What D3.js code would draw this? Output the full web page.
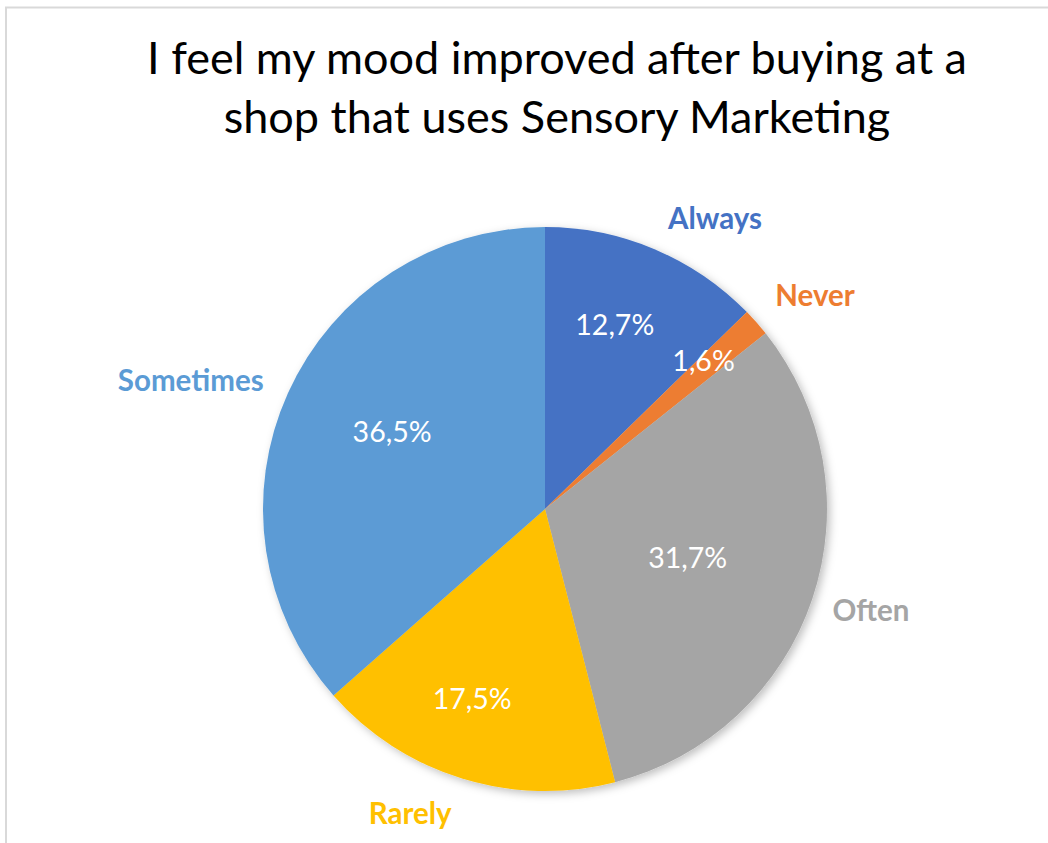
<!DOCTYPE html>
<html>
<head>
<meta charset="utf-8">
<script src="https://cdn.jsdelivr.net/npm/d3@7/dist/d3.min.js"></script>
<style>
  html, body { margin: 0; padding: 0; background: #fff; }
  svg { display: block; font-family: Lato, "Open Sans", sans-serif; }
</style>
</head>
<body>
<svg id="chart" width="1048" height="843"></svg>
<script>
// Survey answers, clockwise from 12 o'clock
const categories = ["Always", "Never", "Often", "Rarely", "Sometimes"];
const shares = [12.7, 1.6, 31.7, 17.5, 36.5];
const sliceColors = ["#4472C4", "#ED7D31", "#A5A5A5", "#FFC000", "#5B9BD5"];
const titleLines = ["I feel my mood improved after buying at a", "shop that uses Sensory Marketing"];

// Label placement: [angle in degrees clockwise from top, distance as a fraction of the radius]
const valueLabelPolar = [[20.7, 0.70], [46.9, 0.77], [108.9, 0.535], [201, 0.72], [296.7, 0.607]];
const nameLabelPolar = [[30.3, 1.195], [51.7, 1.22], [107.2, 1.21], [203.9, 1.18], [290, 1.337]];

const svg = d3.select("#chart");
const cx = 545, cy = 509, R = 282;

// chart frame
svg.append("path")
  .attr("d", "M6,843 V7.5 H1048")
  .attr("fill", "none")
  .attr("stroke", "#d9d9d9")
  .attr("stroke-width", 2);

// title
svg.append("text")
  .attr("x", 557)
  .attr("font-size", 45)
  .attr("fill", "#000")
  .attr("text-anchor", "middle")
  .selectAll("tspan")
  .data(titleLines)
  .join("tspan")
  .attr("x", 557)
  .attr("y", (d, i) => 74 + i * 59)
  .text(d => d);

const defs = svg.append("defs");
const shadow = defs.append("filter").attr("id", "pieShadow")
  .attr("x", "-20%").attr("y", "-20%").attr("width", "140%").attr("height", "140%");
shadow.append("feDropShadow")
  .attr("dx", 3).attr("dy", 3).attr("stdDeviation", 4)
  .attr("flood-color", "#000").attr("flood-opacity", 0.25);

const pie = d3.pie().sort(null).value(d => d)(shares);
const arc = d3.arc().innerRadius(0).outerRadius(R);
const color = d3.scaleOrdinal().domain(categories).range(sliceColors);

const g = svg.append("g").attr("transform", `translate(${cx},${cy})`);

g.append("g").attr("filter", "url(#pieShadow)")
  .selectAll("path")
  .data(pie)
  .join("path")
  .attr("d", arc)
  .attr("fill", (d, i) => color(categories[i]));

const polar = ([deg, f]) => {
  const a = deg * Math.PI / 180;
  return [Math.sin(a) * f * R, -Math.cos(a) * f * R];
};

const fmt = v => d3.format(".1f")(v).replace(".", ",") + "%";

g.selectAll("text.value")
  .data(pie)
  .join("text")
  .attr("class", "value")
  .attr("transform", (d, i) => `translate(${polar(valueLabelPolar[i])})`)
  .attr("text-anchor", "middle")
  .attr("dy", "0.36em")
  .attr("font-size", 28.5)
  .attr("fill", "#fff")
  .text(d => fmt(d.data));

g.selectAll("text.name")
  .data(pie)
  .join("text")
  .attr("class", "name")
  .attr("transform", (d, i) => `translate(${polar(nameLabelPolar[i])})`)
  .attr("text-anchor", "middle")
  .attr("dy", "0.36em")
  .attr("font-size", 29.5)
  .attr("font-weight", "bold")
  .attr("fill", (d, i) => color(categories[i]))
  .text((d, i) => categories[i]);
</script>
</body>
</html>
